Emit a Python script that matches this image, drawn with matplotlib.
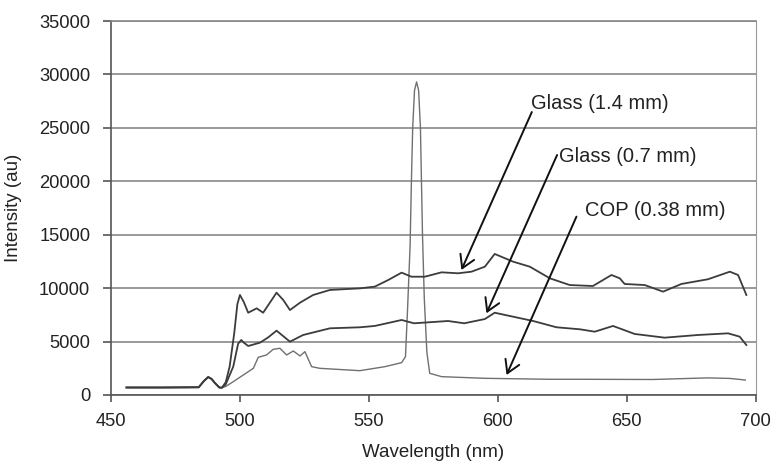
import matplotlib
matplotlib.use('Agg')
import matplotlib.pyplot as plt
import numpy as np

plt.rcParams['font.family'] = ['Liberation Sans', 'DejaVu Sans']

# shared part of the spectra (below ~493 nm all three coincide)
base_nm = [456, 470, 484, 486, 487.7, 489, 490.3, 492, 493]
base_val = [700, 700, 720, 1300, 1680, 1500, 1120, 700, 680]

glass14_nm = [494.5, 496, 497.8, 499, 500, 501.5, 503.2, 506.5, 509, 511.5, 514.2,
              516.8, 519.4, 523.3, 528.4, 534.9, 546.5, 552.3, 557.5, 562.7, 566.5,
              571.7, 578.2, 584.6, 589.8, 595, 598.8, 605.9, 612.4, 620.2, 627.9,
              636.9, 644.1, 647.3, 649.2, 657, 664.1, 671.2, 681.5, 690, 693.2, 696.4]
glass14_val = [1200, 2650, 5800, 8500, 9360, 8700, 7700, 8110, 7700, 8600, 9575,
               8890, 7950, 8640, 9360, 9830, 9980, 10140, 10760, 11450, 11070,
               11070, 11480, 11390, 11540, 12010, 13200, 12480, 12010, 10920, 10290,
               10200, 11230, 10920, 10390, 10290, 9670, 10390, 10830, 11540, 11230, 9360]

glass07_nm = [494.5, 497.4, 499.3, 500.5, 501.5, 503.2, 507.8, 511, 514.2, 519.4,
              524.5, 534.9, 546.5, 552.3, 562.7, 567.5, 580.7, 587, 595, 598.8,
              605.9, 613.7, 622.8, 631.8, 637.6, 644.7, 653.1, 664.7, 677.6, 689.3,
              693.8, 696.4]
glass07_val = [1000, 2650, 4800, 5150, 4900, 4585, 4900, 5400, 6020, 4990,
               5615, 6240, 6335, 6460, 7020, 6710, 6925, 6710, 7110, 7700,
               7330, 6925, 6335, 6150, 5925, 6460, 5710, 5365, 5615, 5770,
               5460, 4680]

cop_nm = [494.5, 497.4, 501.3, 505.2, 507.1, 510.3, 512.9, 515.5, 518.1, 520.7,
          523.3, 525.2, 527.8, 531, 546.5, 556.2, 562.7, 564.2, 565, 566, 566.5,
          567, 567.7, 568.5, 569.3, 570, 570.4, 570.8, 571.5, 572.5, 573.6, 578.2,
          595, 620, 631.8, 660, 681.5, 690, 696]
cop_val = [800, 1245, 1870, 2495, 3525, 3745, 4275, 4370, 3745, 4118,
           3650, 4055, 2650, 2495, 2275, 2650, 3025, 3585, 8000, 14000, 20000,
           25000, 28500, 29300, 28500, 25000, 20000, 15000, 9000, 4000, 2030, 1715,
           1560, 1470, 1470, 1450, 1600, 1550, 1400]

labels = ['Glass (1.4 mm)', 'Glass (0.7 mm)', 'COP (0.38 mm)']
label_xy = [(612.9, 27300), (623.6, 22300), (633.7, 17310)]
arrow_tail = [(613.2, 26480), (623.0, 22460), (630.5, 16690)]
arrow_head = [(585.9, 11700), (595.6, 7645), (603.4, 1870)]

fig = plt.figure(figsize=(7.72, 4.63), dpi=100)
ax = fig.add_axes([0.1438, 0.1469, 0.835, 0.8077])

ax.plot(base_nm + cop_nm, base_val + cop_val, color='#707070', lw=1.0)
ax.plot(base_nm + glass07_nm, base_val + glass07_val, color='#3c3c3c', lw=1.3)
ax.plot(base_nm + glass14_nm, base_val + glass14_val, color='#3c3c3c', lw=1.3)

for lab, txy, tail, head in zip(labels, label_xy, arrow_tail, arrow_head):
    ax.annotate('', xy=head, xytext=tail,
                arrowprops=dict(arrowstyle='->,head_length=0.5,head_width=0.3',
                                lw=1.4, color='#111111',
                                mutation_scale=18, shrinkA=0, shrinkB=0))
    ax.text(txy[0], txy[1], lab, fontsize=14.5, ha='left', va='center',
            color='#222222')

ax.set_xlim(450, 700)
ax.set_ylim(0, 35000)
ax.set_xticks(np.arange(450, 701, 50))
ax.set_yticks(np.arange(0, 35001, 5000))
ax.yaxis.grid(True, color='#888888', lw=1.2)
ax.set_axisbelow(True)

for side in ['left', 'bottom']:
    ax.spines[side].set_color('#555555')
    ax.spines[side].set_linewidth(1.2)
ax.spines['right'].set_color('#999999')
ax.spines['top'].set_color('#888888')
ax.spines['top'].set_linewidth(1.2)

ax.tick_params(axis='both', direction='out', length=5, width=1.2, color='#555555',
               labelsize=13.2, labelcolor='#222222', pad=8)
ax.tick_params(axis='y', length=6, pad=9)

ax.set_xlabel('Wavelength (nm)', fontsize=13.5, color='#222222', labelpad=10)
ax.set_ylabel('Intensity (au)', fontsize=13.5, color='#222222', labelpad=12)

fig.savefig('out.png', dpi=100)
